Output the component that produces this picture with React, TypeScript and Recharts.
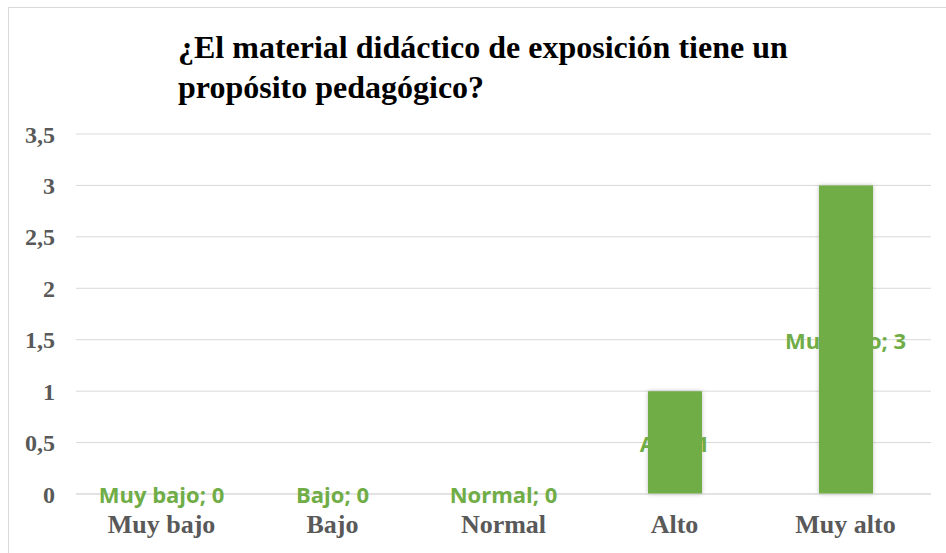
import React from 'react';
import { ComposedChart, Bar, Line, XAxis, YAxis, CartesianGrid, LabelList } from 'recharts';

const categories = ['Muy bajo', 'Bajo', 'Normal', 'Alto', 'Muy alto'];
const values = [0, 0, 0, 1, 3];
const yTicks = [0, 0.5, 1, 1.5, 2, 2.5, 3, 3.5];

const GREEN = '#70AD47';
const GREY = '#595959';
const SERIF = '"Liberation Serif", "Times New Roman", serif';

// label anchor sits halfway up each bar, like Excel's "center" data labels
const data = categories.map((name, i) => ({ name, value: values[i], mid: values[i] / 2 }));

const fmt = (v: number) => String(v).replace('.', ',');

const renderLabel = (props: any) => {
  const { x, y, index } = props;
  return (
    <text
      x={Number(x)}
      y={Number(y)}
      textAnchor="middle"
      dominantBaseline="central"
      fill={GREEN}
      style={{ fontFamily: '"Open Sans", sans-serif', fontWeight: 700, fontSize: 22 }}
    >
      {`${categories[index]}; ${fmt(values[index])}`}
    </text>
  );
};

const App: React.FC = () => {
  return (
    <div style={{ position: 'absolute', left: 0, top: 0, width: 946, height: 553, background: '#fff', overflow: 'hidden' }}>
      <div
        style={{
          position: 'absolute',
          left: 8,
          top: 7,
          width: 946,
          height: 553,
          borderLeft: '1px solid #d9d9d9',
          borderTop: '1px solid #d9d9d9',
        }}
      />
      <svg width={946} height={120} style={{ position: 'absolute', left: 0, top: 0 }}>
        <text x={178} y={58} fill="#000" style={{ fontFamily: SERIF, fontWeight: 700, fontSize: 32 }}>
          ¿El material didáctico de exposición tiene un
        </text>
        <text x={178} y={98} fill="#000" style={{ fontFamily: SERIF, fontWeight: 700, fontSize: 32 }}>
          propósito pedagógico?
        </text>
      </svg>
      <div style={{ position: 'absolute', left: 0, top: 0 }}>
        <ComposedChart width={946} height={553} data={data} margin={{ top: 134, right: 15, bottom: 9, left: 16 }}>
          <defs>
            <filter id="barShadow" x="-20%" y="-5%" width="140%" height="110%">
              <feDropShadow dx="0" dy="0" stdDeviation="2" floodColor="#000" floodOpacity="0.25" />
            </filter>
          </defs>
          <CartesianGrid vertical={false} stroke="#d9d9d9" />
          <XAxis
            dataKey="name"
            axisLine={{ stroke: '#d9d9d9' }}
            tickLine={false}
            tickMargin={15}
            height={50}
            tick={{ fill: GREY, fontFamily: SERIF, fontWeight: 700, fontSize: 26 }}
          />
          <YAxis
            width={60}
            domain={[0, 3.5]}
            ticks={yTicks}
            tickFormatter={fmt}
            axisLine={false}
            tickLine={false}
            tickMargin={15}
            tick={{ fill: GREY, fontFamily: SERIF, fontWeight: 700, fontSize: 24 }}
          />
          <Bar dataKey="value" fill={GREEN} barSize={54} filter="url(#barShadow)" isAnimationActive={false} />
          <Line dataKey="mid" stroke="none" dot={false} activeDot={false} isAnimationActive={false}>
            <LabelList dataKey="mid" content={renderLabel} />
          </Line>
        </ComposedChart>
      </div>
    </div>
  );
};

export default App;
